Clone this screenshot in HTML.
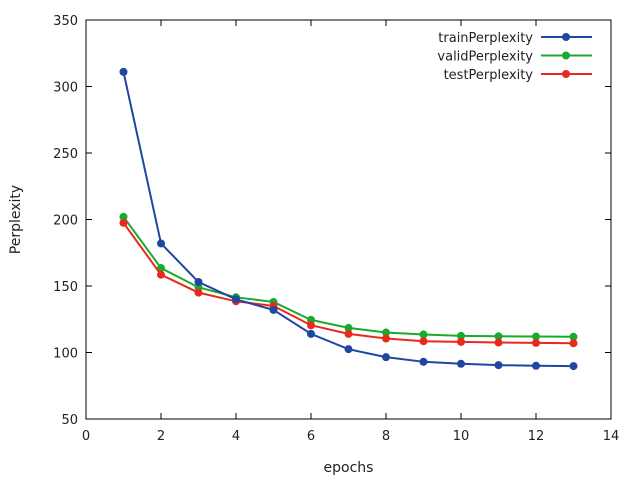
<!DOCTYPE html>
<html><head><meta charset="utf-8"><style>body{margin:0;background:#fff}svg{display:block;font-family:"DejaVu Sans","Liberation Sans",sans-serif}</style></head>
<body>
<svg id="c" width="640" height="480"></svg>
<script>
const epochs=[1,2,3,4,5,6,7,8,9,10,11,12,13];
const trainPerplexity=[311,182,153,140,132,114,102.5,96.5,93,91.5,90.5,90,89.8];
const validPerplexity=[202,163.5,149,141.5,138,124.5,118.5,115,113.5,112.5,112.2,112,111.8];
const testPerplexity=[197.5,158.5,145,138.5,135,120.5,114,110.5,108.5,108,107.5,107.2,107];
const xTicks=[0,2,4,6,8,10,12,14];
const yTicks=[50,100,150,200,250,300,350];
const seriesNames=["trainPerplexity","validPerplexity","testPerplexity"];
const NS="http://www.w3.org/2000/svg";
const svg=document.getElementById('c');
const L=86,R=611,T=20,B=419;
const xs=v=>L+(v-0)/(14-0)*(R-L);
const ys=v=>B-(v-50)/(350-50)*(B-T);
function el(t,a,p){const e=document.createElementNS(NS,t);for(const k in a)e.setAttribute(k,a[k]);(p||svg).appendChild(e);return e;}
let f=el('rect',{x:L,y:T,width:R-L,height:B-T,fill:'none',stroke:'#000','stroke-width':1});


xTicks.forEach(v=>{const x=xs(v);
 el('line',{x1:x,y1:B,x2:x,y2:B-6,stroke:'#000'});el('line',{x1:x,y1:T,x2:x,y2:T+6,stroke:'#000'});
 const t=el('text',{x:x,y:B+21,'text-anchor':'middle','font-size':13,fill:'#222'});t.textContent=v;
 
 });
yTicks.forEach(v=>{const y=ys(v);
 el('line',{x1:L,y1:y,x2:L+6,y2:y,stroke:'#000'});el('line',{x1:R,y1:y,x2:R-6,y2:y,stroke:'#000'});
 const t=el('text',{x:L-8,y:y+5,'text-anchor':'end','font-size':13,fill:'#222'});t.textContent=v;
 
 });
let xt=el('text',{x:(L+R)/2,y:472,'text-anchor':'middle','font-size':14,fill:'#222'});xt.textContent='epochs';


let yt=el('text',{x:20,y:(T+B)/2,'text-anchor':'middle','font-size':14,fill:'#222',transform:'rotate(-90 20 '+((T+B)/2)+')'});yt.textContent='Perplexity';


const colors=['#1f46a0','#1aaa2c','#e8291c'];
const data=[trainPerplexity,validPerplexity,testPerplexity];
[1,2,0].forEach(i=>{const g=el('g',{});
 
 
 el('polyline',{points:epochs.map((e,j)=>xs(e)+','+ys(data[i][j])).join(' '),fill:'none',stroke:colors[i],'stroke-width':2},g);
 epochs.forEach((e,j)=>{const c=el('circle',{cx:xs(e),cy:ys(data[i][j]),r:4,fill:colors[i]},g);
  
  });});
seriesNames.forEach((n,i)=>{const y=37+i*18.5;const g=el('g',{});
 
 
 const t=el('text',{x:533,y:y+5,'text-anchor':'end','font-size':13,fill:'#222'},g);t.textContent=n;
 el('line',{x1:541,y1:y,x2:592,y2:y,stroke:colors[i],'stroke-width':2},g);
 el('circle',{cx:566,cy:y,r:4,fill:colors[i]},g);});
</script>
</body></html>
